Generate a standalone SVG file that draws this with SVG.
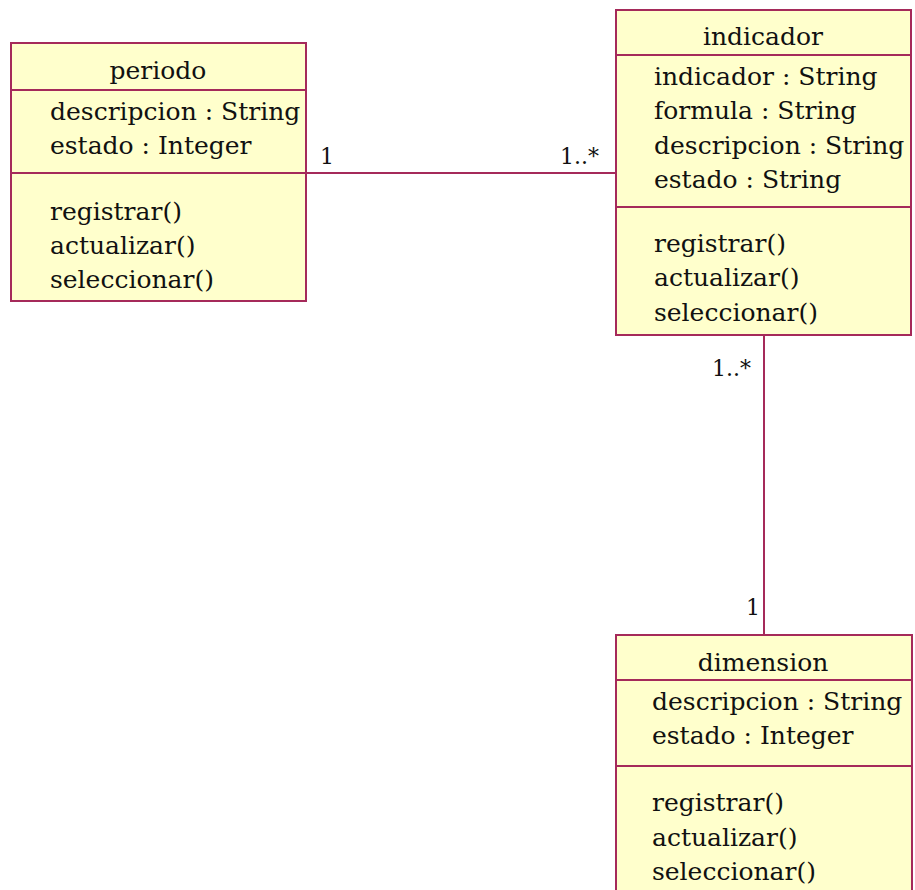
<svg xmlns="http://www.w3.org/2000/svg" width="915" height="890" viewBox="0 0 915 890">
<style>
.box{fill:#FFFFCC;stroke:#A52A5A;stroke-width:2}
.sep{stroke:#A52A5A;stroke-width:2}
.conn{stroke:#A52A5A;stroke-width:2;fill:none}
text{font-family:"DejaVu Serif","Liberation Serif",serif;font-size:25px;fill:#111}
.t{text-anchor:middle}
.m{font-size:22px}
</style>
<rect width="915" height="890" fill="#fff"/>
<g id="periodo">
<rect class="box" x="11" y="43" width="295" height="258"/>
<line class="sep" x1="11" y1="90" x2="306" y2="90"/>
<line class="sep" x1="11" y1="173" x2="306" y2="173"/>
<text class="t" x="158" y="79">periodo</text>
<text x="50" y="120">descripcion : String</text>
<text x="50" y="154">estado : Integer</text>
<text x="50" y="220">registrar()</text>
<text x="50" y="254">actualizar()</text>
<text x="50" y="288">seleccionar()</text>
</g>
<g id="indicador">
<rect class="box" x="616" y="10" width="295" height="325"/>
<line class="sep" x1="616" y1="55" x2="911" y2="55"/>
<line class="sep" x1="616" y1="207" x2="911" y2="207"/>
<text class="t" x="763" y="45">indicador</text>
<text x="654" y="85">indicador : String</text>
<text x="654" y="119">formula : String</text>
<text x="654" y="154">descripcion : String</text>
<text x="654" y="188">estado : String</text>
<text x="654" y="252">registrar()</text>
<text x="654" y="286">actualizar()</text>
<text x="654" y="321">seleccionar()</text>
</g>
<g id="dimension">
<rect class="box" x="616" y="635" width="296" height="270"/>
<line class="sep" x1="616" y1="680" x2="912" y2="680"/>
<line class="sep" x1="616" y1="766" x2="912" y2="766"/>
<text class="t" x="763" y="671">dimension</text>
<text x="652" y="710">descripcion : String</text>
<text x="652" y="744">estado : Integer</text>
<text x="652" y="811">registrar()</text>
<text x="652" y="846">actualizar()</text>
<text x="652" y="880">seleccionar()</text>
</g>
<g id="connectors">
<line class="conn" x1="306" y1="173" x2="616" y2="173"/>
<line class="conn" x1="764" y1="335" x2="764" y2="635"/>
<text class="m" x="320" y="164">1</text>
<text class="m" x="560" y="164">1..*</text>
<text class="m" x="712" y="376">1..*</text>
<text class="m" x="746" y="615">1</text>
</g>
</svg>
